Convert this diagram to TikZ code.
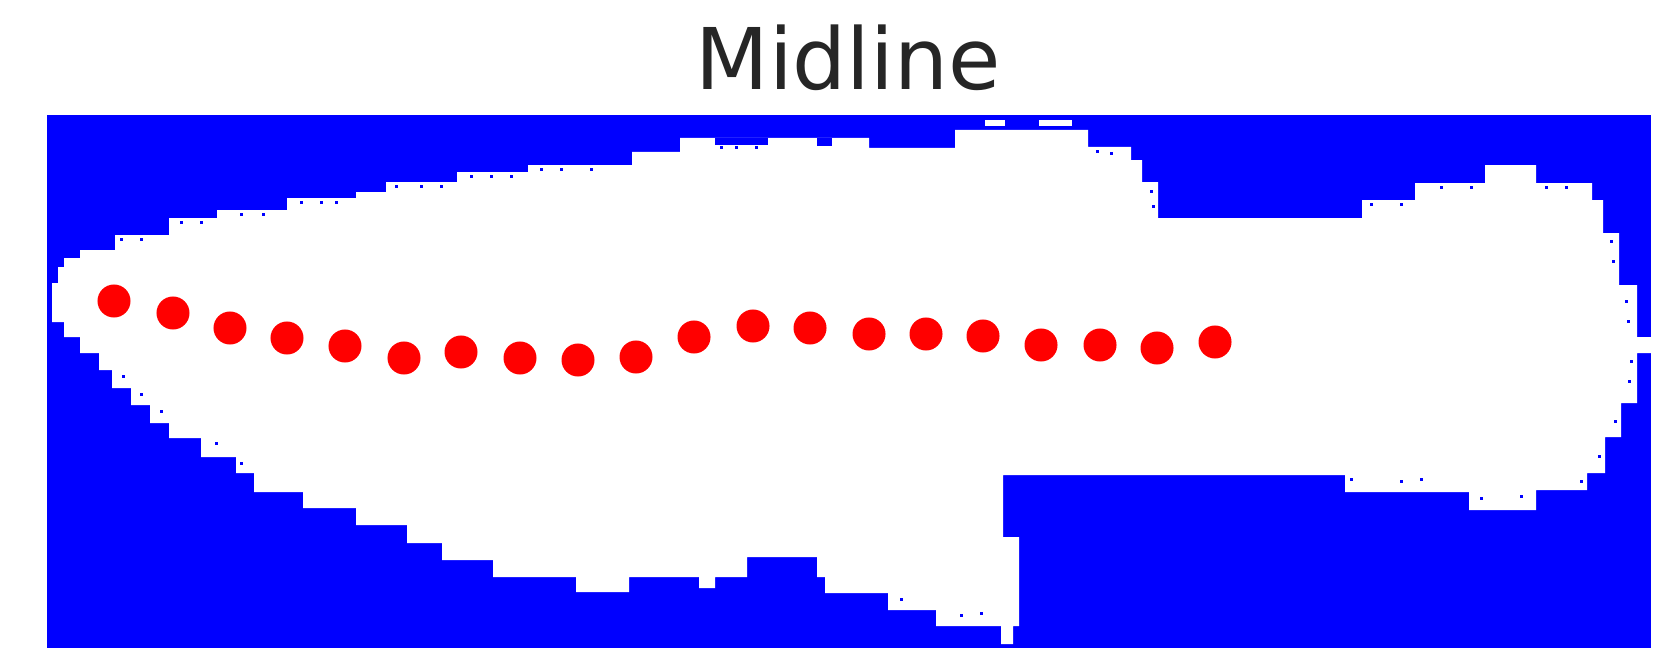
\documentclass[tikz,border=0pt]{standalone}
\usepackage{fontspec}
\setmainfont{DejaVu Sans}
\definecolor{wallblue}{RGB}{0,0,255}
\definecolor{midred}{RGB}{255,0,0}
\definecolor{titlegray}{RGB}{38,38,38}

\begin{document}
\begin{tikzpicture}[
    x=0.01cm, y=-0.01cm,
    wall/.style  = {fill=wallblue},
    free/.style  = {fill=white},
    midpt/.style = {circle, fill=midred, minimum size=0.33cm, inner sep=0pt},
    ttl/.style   = {font=\fontsize{24.2}{29}\selectfont, text=titlegray, anchor=base, inner sep=0pt},
]
\useasboundingbox (0,0) rectangle (1674,670);

% ---------------- title ----------------
\node[ttl] (title) at (848,90) {Midline};

% ---------------- occupancy map ----------------
\fill[wall] (47,115) rectangle (1651,648);
\fill[free] (52,322) -- (52,283) -- (58,283) -- (58,267) -- (64,267) -- (64,258) -- (80,258) -- (80,250)
  -- (115,250) -- (115,235) -- (169,235) -- (169,218) -- (217,218) -- (217,210) -- (287,210) -- (287,198)
  -- (356,198) -- (356,192) -- (386,192) -- (386,182) -- (457,182) -- (457,172) -- (528,172) -- (528,165)
  -- (632,165) -- (632,152) -- (680,152) -- (680,138) -- (869,138) -- (869,148) -- (955,148) -- (955,130)
  -- (1088,130) -- (1088,147) -- (1131,147) -- (1131,160) -- (1142,160) -- (1142,182) -- (1158,182)
  -- (1158,218) -- (1362,218) -- (1362,200) -- (1415,200) -- (1415,183) -- (1485,183) -- (1485,165)
  -- (1536,165) -- (1536,183) -- (1592,183) -- (1592,200) -- (1603,200) -- (1603,233) -- (1619,233)
  -- (1619,285) -- (1637,285) -- (1637,337) -- (1651,337) -- (1651,353) -- (1637,353) -- (1637,403)
  -- (1621,403) -- (1621,437) -- (1605,437) -- (1605,473) -- (1587,473) -- (1587,490) -- (1536,490)
  -- (1536,510) -- (1469,510) -- (1469,492) -- (1345,492) -- (1345,475) -- (1003,475) -- (1003,537)
  -- (1019,537) -- (1019,626) -- (1013,626) -- (1013,644) -- (1001,644) -- (1001,626) -- (936,626)
  -- (936,610) -- (888,610) -- (888,593) -- (825,593) -- (825,577) -- (817,577) -- (817,557)
  -- (747,557) -- (747,577) -- (715,577) -- (715,588) -- (699,588) -- (699,577) -- (629,577)
  -- (629,592) -- (576,592) -- (576,577) -- (493,577) -- (493,560) -- (442,560) -- (442,543)
  -- (407,543) -- (407,525) -- (356,525) -- (356,508) -- (303,508) -- (303,492) -- (254,492)
  -- (254,473) -- (236,473) -- (236,457) -- (201,457) -- (201,438) -- (169,438) -- (169,423)
  -- (150,423) -- (150,405) -- (131,405) -- (131,388) -- (112,388) -- (112,370) -- (99,370)
  -- (99,353) -- (80,353) -- (80,337) -- (64,337) -- (64,322) -- cycle;
\fill[free] (985,120) rectangle (1005,126);
\fill[free] (1039,120) rectangle (1072,126);
\fill[wall] (715,138) rectangle (768,145);
\fill[wall] (817,138) rectangle (832,146);

% ragged cells along the walls
\foreach \x/\y in {120/238, 140/238, 180/221, 200/221, 240/213, 262/213, 300/201, 320/201,
    335/201, 395/185, 420/185, 440/185, 470/175, 490/175, 510/175, 540/168, 560/168, 590/168,
    720/146, 735/146, 755/146, 1096/150, 1110/152, 1150/190, 1152/205, 1370/203, 1400/203,
    1440/186, 1470/186, 1545/186, 1565/186, 1610/240, 1612/260, 1625/300, 1627/320,
    1630/360, 1628/380, 1614/420, 1598/455, 1580/480, 1550/493, 1520/495, 1480/497, 1400/480,
    1420/478, 1350/478, 1290/478, 1010/480, 1006/500, 1006/520, 980/612, 960/614, 920/614,
    900/598, 760/560, 790/560, 805/560, 480/565, 460/563, 420/546, 390/530, 370/528, 330/512,
    290/495, 270/495, 240/462, 215/442, 160/410, 140/393, 122/375, 90/357, 72/342}
  \fill[wall] (\x,\y) rectangle ++(3,3);

% ---------------- midline points ----------------
\foreach \x/\y [count=\i] in {114/301, 173/313, 230/328, 287/338, 345/346, 404/358, 461/352,
    520/358, 578/360, 636/357, 694/337, 753/326, 810/328, 869/334, 926/334, 983/336,
    1041/345, 1100/345, 1157/348, 1215/342}
  \node[midpt] (p\i) at (\x,\y) {};

\end{tikzpicture}
\end{document}
